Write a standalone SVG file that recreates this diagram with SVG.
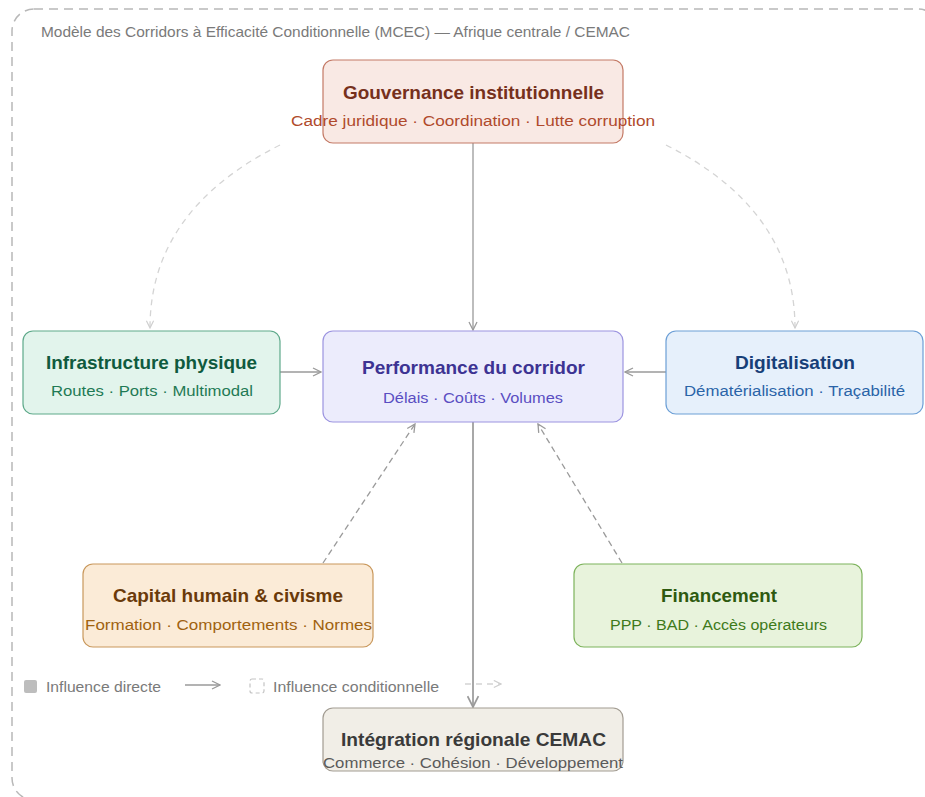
<svg xmlns="http://www.w3.org/2000/svg" width="925" height="797" viewBox="0 0 925 797">
<style>
text{font-family:"Liberation Sans","DejaVu Sans",sans-serif}
.t{font-size:19px;font-weight:bold;text-anchor:middle}
.s{font-size:15.5px;text-anchor:middle}
.lg{font-size:14.5px;fill:#7a7a7a}
.solid{fill:none;stroke:#9a9a9a;stroke-width:1.3}
.dash{fill:none;stroke:#9a9a9a;stroke-width:1.3;stroke-dasharray:6 4}
.faint{fill:none;stroke:#d4d4d4;stroke-width:1.3;stroke-dasharray:6 5}
</style>
<defs>
<marker id="ah" viewBox="0 0 10 10" refX="9" refY="5" markerWidth="10" markerHeight="10" markerUnits="userSpaceOnUse" orient="auto">
<path d="M1,1 L9,5 L1,9" fill="none" stroke="#9a9a9a" stroke-width="1.3"/>
</marker>
<marker id="ahf" viewBox="0 0 10 10" refX="9" refY="5" markerWidth="9" markerHeight="9" markerUnits="userSpaceOnUse" orient="auto">
<path d="M1,1 L9,5 L1,9" fill="none" stroke="#cfcfcf" stroke-width="1.3"/>
</marker>
<marker id="ahb" viewBox="0 0 12 12" refX="11" refY="6" markerWidth="13" markerHeight="13" markerUnits="userSpaceOnUse" orient="auto">
<path d="M1,1 L11,6 L1,11" fill="none" stroke="#9a9a9a" stroke-width="1.6"/>
</marker>
</defs>
<rect x="12" y="9" width="928" height="791" rx="22" fill="none" stroke="#b8b8b8" stroke-width="1.5" stroke-dasharray="9 6"/>
<text x="41" y="37" class="lg" textLength="589" lengthAdjust="spacingAndGlyphs">Modèle des Corridors à Efficacité Conditionnelle (MCEC) — Afrique centrale / CEMAC</text>
<g id="connectors">
<path class="faint" d="M280,145 Q150,210 150,328" marker-end="url(#ahf)"/>
<path class="faint" d="M666,145 Q795,210 795,328" marker-end="url(#ahf)"/>
<path class="solid" d="M473,143 L473,330" marker-end="url(#ah)"/>
<path class="solid" d="M280,372 L321,372" marker-end="url(#ah)"/>
<path class="solid" d="M666,372 L625,372" marker-end="url(#ah)"/>
<path d="M473,422 L473,707" fill="none" stroke="#a8a8a8" stroke-width="2" marker-end="url(#ahb)"/>
<path class="dash" d="M323,563 L415,424" marker-end="url(#ah)"/>
<path class="dash" d="M622,563 L538,424" marker-end="url(#ah)"/>
</g>
<g id="gouvernance">
<rect x="323" y="60" width="300" height="83" rx="10" fill="#f9e9e4" stroke="#c47a66" stroke-width="1.2"/>
<text x="473.5" y="99" class="t" fill="#76301c" textLength="261" lengthAdjust="spacingAndGlyphs">Gouvernance institutionnelle</text>
<text x="473" y="126" class="s" fill="#b04a2c" textLength="364" lengthAdjust="spacingAndGlyphs">Cadre juridique · Coordination · Lutte corruption</text>
</g>
<g id="infrastructure">
<rect x="23" y="331" width="257" height="83" rx="10" fill="#e2f4ec" stroke="#5ea98a" stroke-width="1.2"/>
<text x="151.5" y="369" class="t" fill="#0f5a3e" textLength="211" lengthAdjust="spacingAndGlyphs">Infrastructure physique</text>
<text x="152" y="396" class="s" fill="#1f7a55" textLength="202" lengthAdjust="spacingAndGlyphs">Routes · Ports · Multimodal</text>
</g>
<g id="performance">
<rect x="323" y="331" width="300" height="91" rx="10" fill="#ececfc" stroke="#9c94e0" stroke-width="1.2"/>
<text x="473.5" y="374" class="t" fill="#3d3393" textLength="223" lengthAdjust="spacingAndGlyphs">Performance du corridor</text>
<text x="473" y="403" class="s" fill="#5a4ec2" textLength="180" lengthAdjust="spacingAndGlyphs">Délais · Coûts · Volumes</text>
</g>
<g id="digitalisation">
<rect x="666" y="331" width="257" height="83" rx="10" fill="#e6f0fb" stroke="#6c9fd6" stroke-width="1.2"/>
<text x="795" y="369" class="t" fill="#173f78" textLength="120" lengthAdjust="spacingAndGlyphs">Digitalisation</text>
<text x="794.5" y="396" class="s" fill="#2a64a8" textLength="221" lengthAdjust="spacingAndGlyphs">Dématérialisation · Traçabilité</text>
</g>
<g id="capital">
<rect x="83" y="564" width="290" height="83" rx="10" fill="#fbebd7" stroke="#c9985c" stroke-width="1.2"/>
<text x="228" y="602" class="t" fill="#6a3a0a" textLength="230" lengthAdjust="spacingAndGlyphs">Capital humain &amp; civisme</text>
<text x="228.5" y="630" class="s" fill="#a0620f" textLength="287" lengthAdjust="spacingAndGlyphs">Formation · Comportements · Normes</text>
</g>
<g id="financement">
<rect x="574" y="564" width="288" height="83" rx="10" fill="#e8f3dc" stroke="#7db35c" stroke-width="1.2"/>
<text x="719" y="602" class="t" fill="#2e5a10" textLength="116" lengthAdjust="spacingAndGlyphs">Financement</text>
<text x="718.5" y="630" class="s" fill="#3e7a1a" textLength="217" lengthAdjust="spacingAndGlyphs">PPP · BAD · Accès opérateurs</text>
</g>
<g id="integration">
<rect x="323" y="708" width="300" height="63" rx="10" fill="#f1eee7" stroke="#a29c92" stroke-width="1.2"/>
<text x="473.5" y="746" class="t" fill="#3a3a3a" textLength="265" lengthAdjust="spacingAndGlyphs">Intégration régionale CEMAC</text>
<text x="473" y="768" class="s" fill="#5a5a5a" textLength="300" lengthAdjust="spacingAndGlyphs">Commerce · Cohésion · Développement</text>
</g>
<g id="legend">
<rect x="24" y="680" width="13" height="13" rx="2" fill="#bdbdbd"/>
<text x="46" y="692" class="lg" textLength="115" lengthAdjust="spacingAndGlyphs">Influence directe</text>
<path d="M185,685 L220,685" class="solid" marker-end="url(#ah)"/>
<rect x="250" y="679" width="14" height="14" rx="2" fill="none" stroke="#c4c4c4" stroke-width="1.2" stroke-dasharray="4 3"/>
<text x="273" y="692" class="lg" textLength="166" lengthAdjust="spacingAndGlyphs">Influence conditionnelle</text>
<path d="M465,684 L501,684" class="faint" stroke-dasharray="4 4" marker-end="url(#ahf)"/>
</g>
</svg>
